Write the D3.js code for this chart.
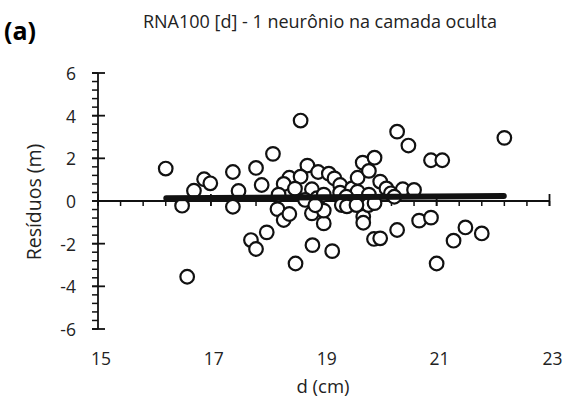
<!DOCTYPE html>
<html>
<head>
<meta charset="utf-8">
<script src="https://cdn.jsdelivr.net/npm/d3@7"></script>
<style>
  body { margin: 0; background: #fff; }
  text { font-family: "Open Sans", Lato, sans-serif; fill: #222; }
</style>
</head>
<body>
<script>
// residual points (d in cm, residual in m)
let dVals = [16.20, 16.70, 16.88, 16.99, 17.39, 17.49, 17.80, 17.90, 18.10, 18.59,
  18.71, 18.39, 18.29, 18.59, 18.20, 18.49, 18.79, 18.90, 19.09, 19.19,
  19.29, 19.29, 19.50, 19.60, 19.60, 19.69, 19.80, 19.90, 20.00, 20.11,
  20.19, 20.30, 20.50, 20.40, 20.60, 20.90, 21.10, 22.20, 18.67, 18.88,
  19.00, 19.40, 19.80, 20.25,
  16.49, 17.39, 16.58, 17.71, 17.80, 17.99, 18.18, 18.29, 18.39, 18.50,
  18.80, 18.79, 19.00, 19.00, 18.85, 19.15, 19.32, 19.41, 19.70, 19.70,
  19.79, 19.89, 20.00, 20.30, 20.69, 20.90, 21.00, 21.30, 21.51, 21.80,
  19.58, 19.90];
let resVals = [1.52, 0.48, 1.02, 0.83, 1.36, 0.47, 1.55, 0.75, 2.21, 3.77,
  1.66, 1.09, 0.80, 1.14, 0.30, 0.58, 0.55, 1.36, 1.28, 1.06,
  0.75, 0.39, 0.59, 0.44, 1.09, 1.80, 1.41, 2.03, 0.91, 0.59,
  0.36, 3.25, 2.60, 0.55, 0.52, 1.91, 1.91, 2.96, 0.05, 0.13,
  0.30, 0.20, 0.30, 0.20,
  -0.22, -0.27, -3.55, -1.83, -2.25, -1.47, -0.38, -0.89, -0.61, -2.93,
  -2.07, -0.58, -1.05, -0.45, -0.20, -2.35, -0.19, -0.25, -0.74, -1.02,
  -0.19, -1.78, -1.75, -1.36, -0.92, -0.78, -2.93, -1.86, -1.24, -1.52,
  -0.19, -0.10];
// thick fitted band
let lineD = [16.21, 22.19];
let lineRes = [0.13, 0.23];
// axes
let xTicks = [15, 17, 19, 21, 23];
let yTicks = [-6, -4, -2, 0, 2, 4, 6];

let width = 566, height = 414;
let svg = d3.select("body").append("svg")
  .attr("width", width)
  .attr("height", height);

let xScale = d3.scaleLinear().domain([15, 23]).range([98, 549.5]);
let yScale = d3.scaleLinear().domain([-6, 6]).range([329, 73]);

let axisColor = "#111";
// y axis line + ticks
svg.append("line")
  .attr("x1", xScale(15)).attr("x2", xScale(15))
  .attr("y1", yScale(-6)).attr("y2", yScale(6))
  .attr("stroke", axisColor).attr("stroke-width", 1.8);
let yMinor = d3.range(-6, 6.001, 0.4);
svg.append("g").selectAll("line").data(yMinor).join("line")
  .attr("x1", xScale(15) - 6).attr("x2", xScale(15))
  .attr("y1", d => yScale(d)).attr("y2", d => yScale(d))
  .attr("stroke", axisColor).attr("stroke-width", 1.5);
svg.append("g").selectAll("line").data(yTicks).join("line")
  .attr("x1", xScale(15) - 6).attr("x2", xScale(15) + 7)
  .attr("y1", d => yScale(d)).attr("y2", d => yScale(d))
  .attr("stroke", axisColor).attr("stroke-width", 1.8);
svg.append("g").selectAll("text").data(yTicks).join("text")
  .attr("x", 76).attr("y", d => yScale(d) + 7)
  .attr("text-anchor", "end")
  .attr("font-size", 17.5)
  .text(d => d);

// x axis line + ticks (crosses at 0)
svg.append("line")
  .attr("x1", xScale(15)).attr("x2", xScale(23))
  .attr("y1", yScale(0)).attr("y2", yScale(0))
  .attr("stroke", axisColor).attr("stroke-width", 1.8);
let xMinor = d3.range(15, 23.001, 0.4);
svg.append("g").selectAll("line").data(xMinor).join("line")
  .attr("x1", d => xScale(d)).attr("x2", d => xScale(d))
  .attr("y1", yScale(0)).attr("y2", yScale(0) + 5)
  .attr("stroke", axisColor).attr("stroke-width", 1.5);
svg.append("g").selectAll("line").data(xTicks).join("line")
  .attr("x1", d => xScale(d)).attr("x2", d => xScale(d))
  .attr("y1", yScale(0) - 7).attr("y2", yScale(0) + 5)
  .attr("stroke", axisColor).attr("stroke-width", 1.8);
svg.append("g").selectAll("text").data(xTicks).join("text")
  .attr("x", d => xScale(d) + 3).attr("y", 365)
  .attr("text-anchor", "middle")
  .attr("font-size", 17.5)
  .text(d => d);

// points
let pts = dVals.map((d, i) => ({ d: d, r: resVals[i] }));
svg.append("g").selectAll("circle").data(pts).join("circle")
  .attr("cx", p => xScale(p.d))
  .attr("cy", p => yScale(p.r))
  .attr("r", 6.8)
  .attr("fill", "#fff")
  .attr("stroke", "#111")
  .attr("stroke-width", 2.2);

// thick band
let band = lineD.map((d, i) => [d, lineRes[i]]);
svg.append("path")
  .attr("d", d3.line().x(p => xScale(p[0])).y(p => yScale(p[1]))(band))
  .attr("stroke", "#111")
  .attr("stroke-width", 6)
  .attr("stroke-linecap", "round")
  .attr("fill", "none");

// titles
svg.append("text")
  .attr("x", 320).attr("y", 28)
  .attr("text-anchor", "middle")
  .attr("font-size", 18)
  .text("RNA100 [d] - 1 neurônio na camada oculta");
svg.append("text")
  .attr("x", 4).attr("y", 40)
  .attr("font-size", 25)
  .attr("font-weight", "bold")
  .style("fill", "#000")
  .text("(a)");
svg.append("text")
  .attr("x", 323).attr("y", 393)
  .attr("text-anchor", "middle")
  .attr("font-size", 18.5)
  .text("d (cm)");
svg.append("text")
  .attr("transform", `translate(41, 202) rotate(-90)`)
  .attr("text-anchor", "middle")
  .attr("font-size", 19.5)
  .text("Resíduos (m)");
</script>
</body>
</html>
